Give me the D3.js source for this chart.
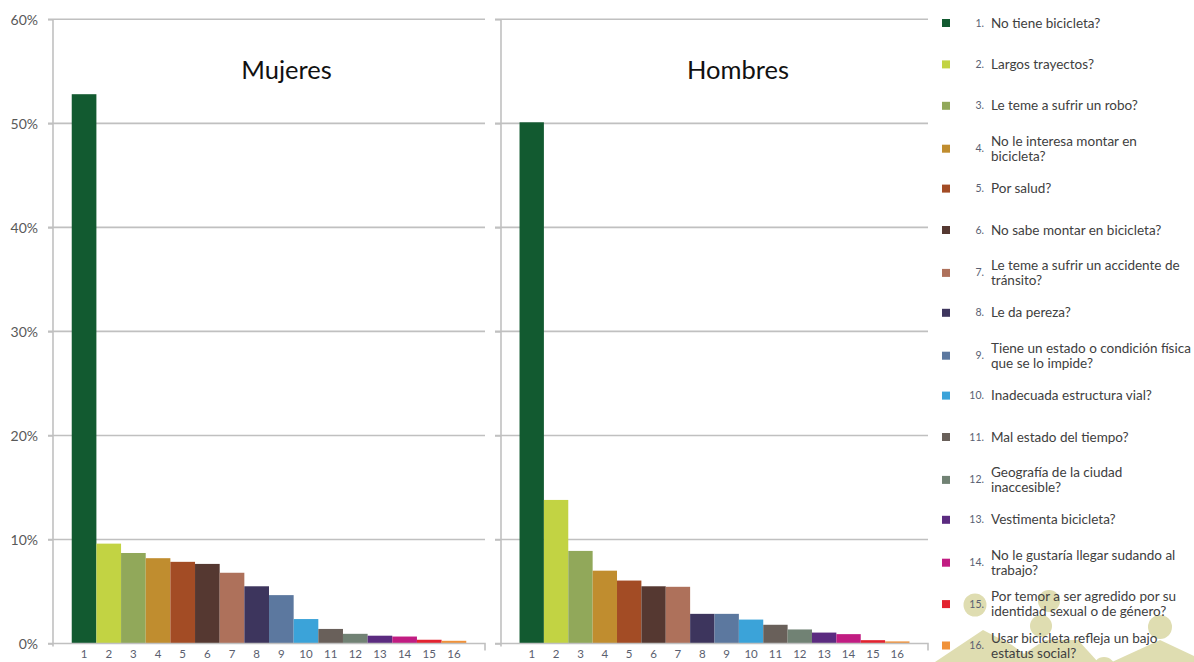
<!DOCTYPE html>
<html>
<head>
<meta charset="utf-8">
<script src="https://cdn.jsdelivr.net/npm/d3@7"></script>
<style>
  html, body { margin: 0; padding: 0; background: #ffffff; }
  svg { display: block; }
</style>
</head>
<body>
<svg id="chart" width="1194" height="662"></svg>
<script>
// ---- data ----
const categories = ["1","2","3","4","5","6","7","8","9","10","11","12","13","14","15","16"];
const mujeres = [52.8, 9.6, 8.7, 8.2, 7.85, 7.65, 6.8, 5.5, 4.65, 2.35, 1.4, 0.93, 0.75, 0.67, 0.36, 0.26];
const hombres = [50.1, 13.8, 8.9, 7.0, 6.05, 5.5, 5.45, 2.85, 2.85, 2.3, 1.8, 1.35, 1.05, 0.9, 0.32, 0.2];
const yTicks = [0, 10, 20, 30, 40, 50, 60];
const panelTitles = ["Mujeres", "Hombres"];
const legendNumbers = ["1.","2.","3.","4.","5.","6.","7.","8.","9.","10.","11.","12.","13.","14.","15.","16."];
const legendLabels = [
  ["No tiene bicicleta?"],
  ["Largos trayectos?"],
  ["Le teme a sufrir un robo?"],
  ["No le interesa montar en", "bicicleta?"],
  ["Por salud?"],
  ["No sabe montar en bicicleta?"],
  ["Le teme a sufrir un accidente de", "tránsito?"],
  ["Le da pereza?"],
  ["Tiene un estado o condición física", "que se lo impide?"],
  ["Inadecuada estructura vial?"],
  ["Mal estado del tiempo?"],
  ["Geografía de la ciudad", "inaccesible?"],
  ["Vestimenta bicicleta?"],
  ["No le gustaría llegar sudando al", "trabajo?"],
  ["Por temor a ser agredido por su", "identidad sexual o de género?"],
  ["Usar bicicleta refleja un bajo", "estatus social?"]
];
const colors = ["#125a30","#c2d343","#91a85a","#c08d2f","#a34c25","#553831","#ae715b","#3d355d",
                "#5c789f","#3ba3d9","#69605a","#718274","#5b2b80","#c11c82","#e3222f","#f0923a"];

// ---- layout ----
const svg = d3.select("#chart");
const FONT = "Lato, 'Open Sans', sans-serif";
const gridColor = "#c0c0c0";

const y = d3.scaleLinear().domain([0, 60]).range([643.5, 19.3]);

// decorative background silhouettes (bottom right)
const deco = svg.append("g").attr("fill", "#dfddb1");
[[975, 605, 11.5], [1049, 601, 11], [1041, 626, 11], [1160, 627, 12], [1104, 668, 11]].forEach(c =>
  deco.append("circle").attr("cx", c[0]).attr("cy", c[1]).attr("r", c[2]));
[
  [[935,662],[983,630],[1012,645],[1035,662]],
  [[1012,662],[1045,640],[1078,640],[1098,662]],
  [[1112,662],[1160,640],[1194,656],[1194,662]]
].forEach(p => deco.append("path").attr("d", d3.line()(p) + "Z"));

const panels = [
  { x0: 53, x1: 485, gridStart: 48, data: mujeres, title: panelTitles[0], labels: true, tdx: 17.5 },
  { x0: 501, x1: 928, gridStart: 495, data: hombres, title: panelTitles[1], labels: false, tdx: 23.5 }
];

panels.forEach(p => {
  const g = svg.append("g");
  const x = d3.scaleBand().domain(categories).range([p.x0, p.x1]).paddingInner(0).paddingOuter(0.76);

  // gridlines
  g.selectAll("line.grid").data(yTicks.filter(t => t > 0)).join("line")
    .attr("x1", p.gridStart).attr("x2", p.x1)
    .attr("y1", d => y(d)).attr("y2", d => y(d))
    .attr("stroke", gridColor).attr("stroke-width", 1.6);

  // y axis
  const ya = g.append("g").attr("transform", `translate(${p.x0},0)`)
    .call(d3.axisLeft(y).tickValues(yTicks).tickSize(p.x0 - p.gridStart).tickFormat(d => d + "%"));
  ya.select(".domain").attr("stroke", gridColor).attr("stroke-width", 1.6)
    .attr("d", `M0,${y(60)}V${y(0) + 3}`);
  ya.selectAll(".tick line").attr("stroke", gridColor).attr("stroke-width", 1.6);
  ya.selectAll(".tick text").attr("font-family", FONT).attr("font-size", 14)
    .attr("fill", p.labels ? "#595959" : "none").attr("x", -(p.x0 - 38)).attr("dy", "0.35em");

  // bars
  g.selectAll("rect.bar").data(p.data).join("rect")
    .attr("x", (d, i) => x(categories[i]))
    .attr("width", x.bandwidth())
    .attr("y", d => y(d))
    .attr("height", d => y(0) - y(d))
    .attr("fill", (d, i) => colors[i]);

  // x axis
  const xa = g.append("g").attr("transform", `translate(0,${y(0)})`)
    .call(d3.axisBottom(x).tickSize(0).tickSizeOuter(7).tickPadding(6));
  xa.select(".domain").attr("stroke", gridColor).attr("stroke-width", 1.6)
    .attr("d", `M${p.gridStart},0H${p.x1}V7`);
  xa.selectAll(".tick text").attr("font-family", FONT).attr("font-size", 11.5).attr("fill", "#5a5e6e");

  // panel title
  g.append("text").attr("x", (p.x0 + p.x1) / 2 + p.tdx).attr("y", 79)
    .attr("text-anchor", "middle").attr("font-family", FONT).attr("font-size", 25.5)
    .attr("fill", "#111").text(p.title);
});

// legend
const legend = svg.append("g");
legendLabels.forEach((lines, i) => {
  const cy = 23 + i * 41.4 + (lines.length > 1 ? 1.5 : 0);
  const item = legend.append("g");
  item.append("rect").attr("x", 942).attr("y", cy - 4).attr("width", 8).attr("height", 8).attr("fill", colors[i]);
  item.append("text").attr("x", 984).attr("y", cy + 3.5).attr("text-anchor", "end")
    .attr("font-family", FONT).attr("font-size", 10.5).attr("fill", "#595f72").text(legendNumbers[i]);
  const lineGap = 15;
  lines.forEach((t, j) => {
    const ly = cy + (j - (lines.length - 1) / 2) * lineGap + 4.5;
    item.append("text").attr("x", 991).attr("y", ly)
      .attr("font-family", FONT).attr("font-size", 13.5).attr("fill", "#404040").text(t);
  });
});
</script>
</body>
</html>
